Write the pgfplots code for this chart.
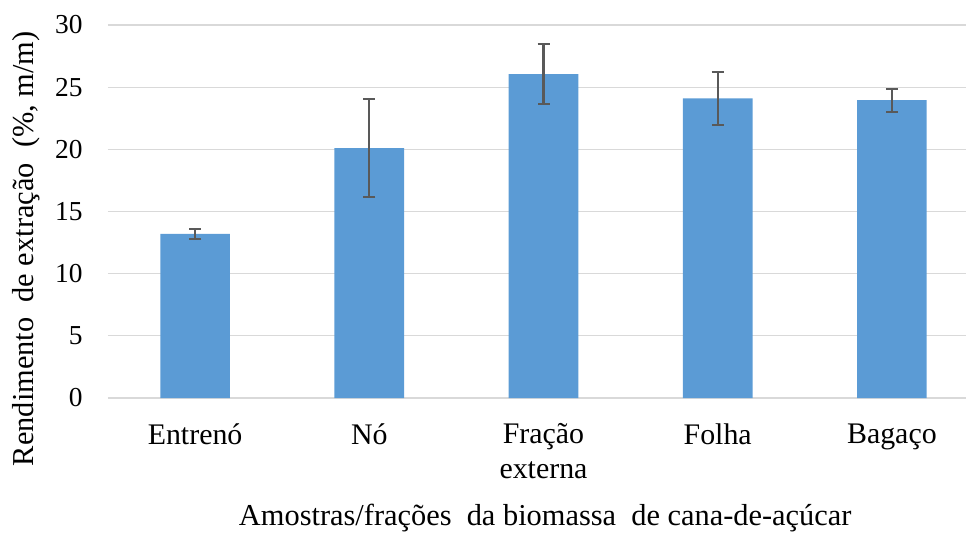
\documentclass[border=0pt]{standalone}
\usepackage{pgfplots}
\pgfplotsset{compat=1.18}
\usepackage{fontspec}
\setmainfont{Liberation Serif}
\definecolor{barblue}{HTML}{5B9BD5}
\definecolor{errgray}{HTML}{595959}
\definecolor{gridgray}{HTML}{D9D9D9}
\begin{document}
\begin{tikzpicture}
\useasboundingbox (-108bp,-143bp) rectangle (858bp,398bp);
\begin{axis}[
  at={(0,0)}, anchor=south west,
  scale only axis, width=871bp, height=373bp,
  xmin=-0.5, xmax=4.5, ymin=0, ymax=30,
  ytick={0,5,...,30},
  xtick={0,1,2,3,4},
  xticklabels={Entrenó, Nó, Fração\\externa, Folha, Bagaço},
  xticklabel style={align=center, font=\fontsize{30}{35}\selectfont, anchor=north, yshift=-22bp},
  yticklabel style={font=\fontsize{27.5}{30}\selectfont, anchor=east, xshift=-22bp},
  /pgf/number format/assume math mode=true,
  axis line style={draw=none},
  tick style={draw=none},
  ymajorgrids, grid style={gridgray, line width=1.3bp},
  xlabel={Amostras/frações\ \ da biomassa\ \ de cana-de-açúcar},
  xlabel style={font=\fontsize{30.5}{34}\selectfont, at={(axis description cs:0.502,0)}, anchor=center, yshift=-120bp},
  ylabel={Rendimento\ \ de extração\ \ (\%, m/m)},
  ylabel style={font=\fontsize{30.5}{34}\selectfont, at={(axis description cs:-0.094,0.4)}, anchor=center},
]
\addplot[ybar, bar width=0.40, fill=barblue, draw=none,
  error bars/.cd, y dir=both, y explicit,
  error bar style={errgray, line width=2.2bp},
  error mark options={errgray, line width=2.2bp, mark size=6bp, rotate=90}]
  coordinates {
    (0,13.2) +- (0,0.4)
    (1,20.1) +- (0,3.93)
    (2,26.05) +- (0,2.4)
    (3,24.1) +- (0,2.15)
    (4,23.95) +- (0,0.92)
  };
\end{axis}
\end{tikzpicture}
\end{document}
